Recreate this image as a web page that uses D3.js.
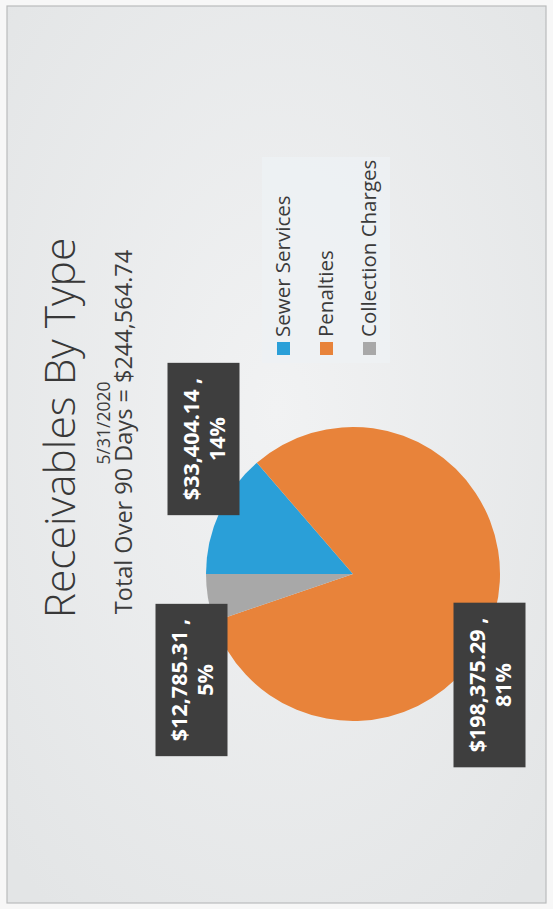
<!DOCTYPE html>
<html>
<head>
<meta charset="utf-8">
<script src="https://cdn.jsdelivr.net/npm/d3@7"></script>
<style>
  html, body { margin: 0; padding: 0; background: #ffffff; }
  svg { display: block; }
  text { font-family: "Open Sans", "DejaVu Sans", sans-serif; }
</style>
</head>
<body>
<svg id="chart" width="553" height="909"></svg>
<script>
// ---- data ----
const categories = ["Sewer Services", "Penalties", "Collection Charges"];
const values = [33404.14, 198375.29, 12785.31];
const colors = ["#2a9fd8", "#e8833a", "#a8a8a8"];
const titleText = "Receivables By Type";
const dateText = "5/31/2020";
const totalLabel = "Total Over 90 Days = ";

// ---- layout (chart is rotated 90° counter-clockwise on the page) ----
const W = 553, H = 909;
const cx = 353, cy = 574, R = 147;
const labelBoxes = [ // box centres for data callouts (Sewer, Penalties, Collection)
  {x: 203.5, y: 439}, {x: 489.5, y: 685}, {x: 191.5, y: 680}
];

const svg = d3.select("#chart");
const defs = svg.append("defs");
const bg = defs.append("radialGradient").attr("id", "bg").attr("cx", "50%").attr("cy", "45%").attr("r", "70%");
bg.append("stop").attr("offset", "0%").attr("stop-color", "#f1f2f3");
bg.append("stop").attr("offset", "100%").attr("stop-color", "#e3e5e6");

svg.append("rect").attr("width", W).attr("height", H).attr("fill", "#f7f7f7");
svg.append("rect").attr("x", 7).attr("y", 6).attr("width", 539).attr("height", 897)
  .attr("fill", "url(#bg)").attr("stroke", "#b9bbbc").attr("stroke-width", 1.2);

const fmt = d3.format("$,.2f");
const total = d3.sum(values);
const pct = d3.format(".0%");

// ---- titles (rotated) ----
function rtext(x, y, str, size, weight, fill, anchor) {
  return svg.append("text")
    .attr("transform", `translate(${x},${y}) rotate(-90)`)
    .attr("text-anchor", anchor || "middle")
    .attr("font-size", size)
    .attr("font-weight", weight || 400)
    .attr("fill", fill || "#3a3a3a")
    .text(str);
}
rtext(75, 428, titleText, 42.5, 300, "#383838");
rtext(110, 423, dateText, 17.5, 400, "#3c3c3c");
rtext(132, 432, totalLabel + fmt(total), 23.5, 400, "#3c3c3c");

// ---- legend ----
svg.append("rect").attr("x", 262).attr("y", 157).attr("width", 128).attr("height", 206)
  .attr("fill", "#eef1f4").attr("opacity", 0.8);
const legend = svg.append("g");
categories.forEach((c, i) => {
  const bx = 290 + i * 43;
  legend.append("rect").attr("x", bx - 13).attr("y", 342).attr("width", 13).attr("height", 13)
    .attr("fill", colors[i]);
  legend.append("text")
    .attr("transform", `translate(${bx},337) rotate(-90)`)
    .attr("text-anchor", "start").attr("font-size", 20.5).attr("fill", "#3a3a3a")
    .text(c);
});

// ---- pie ----
const pie = d3.pie().sort(null).value(d => d)
  .startAngle(-Math.PI / 2).endAngle(3 * Math.PI / 2);
const arc = d3.arc().innerRadius(0).outerRadius(R);
const arcs = pie(values);
svg.append("g").attr("transform", `translate(${cx},${cy})`)
  .selectAll("path").data(arcs).join("path")
  .attr("d", arc).attr("fill", (d, i) => colors[i]);

// ---- data callouts ----
arcs.forEach((a, i) => {
  const b = labelBoxes[i];
  const g = svg.append("g");
  const rect = g.append("rect").attr("fill", "#3e3e3e");
  const t1 = g.append("text")
    .attr("transform", `translate(${b.x - 5},${b.y}) rotate(-90)`)
    .attr("text-anchor", "middle").attr("font-size", 21.5).attr("font-weight", 700)
    .attr("fill", "#ffffff").text(fmt(values[i]) + " ,");
  g.append("text")
    .attr("transform", `translate(${b.x + 21},${b.y}) rotate(-90)`)
    .attr("text-anchor", "middle").attr("font-size", 21.5).attr("font-weight", 700)
    .attr("fill", "#ffffff").text(pct(values[i] / total));
  const len = t1.node().getComputedTextLength();
  const h = len + 30, w = 72;
  rect.attr("x", b.x - w / 2).attr("y", b.y - h / 2).attr("width", w).attr("height", h);
});
</script>
</body>
</html>
